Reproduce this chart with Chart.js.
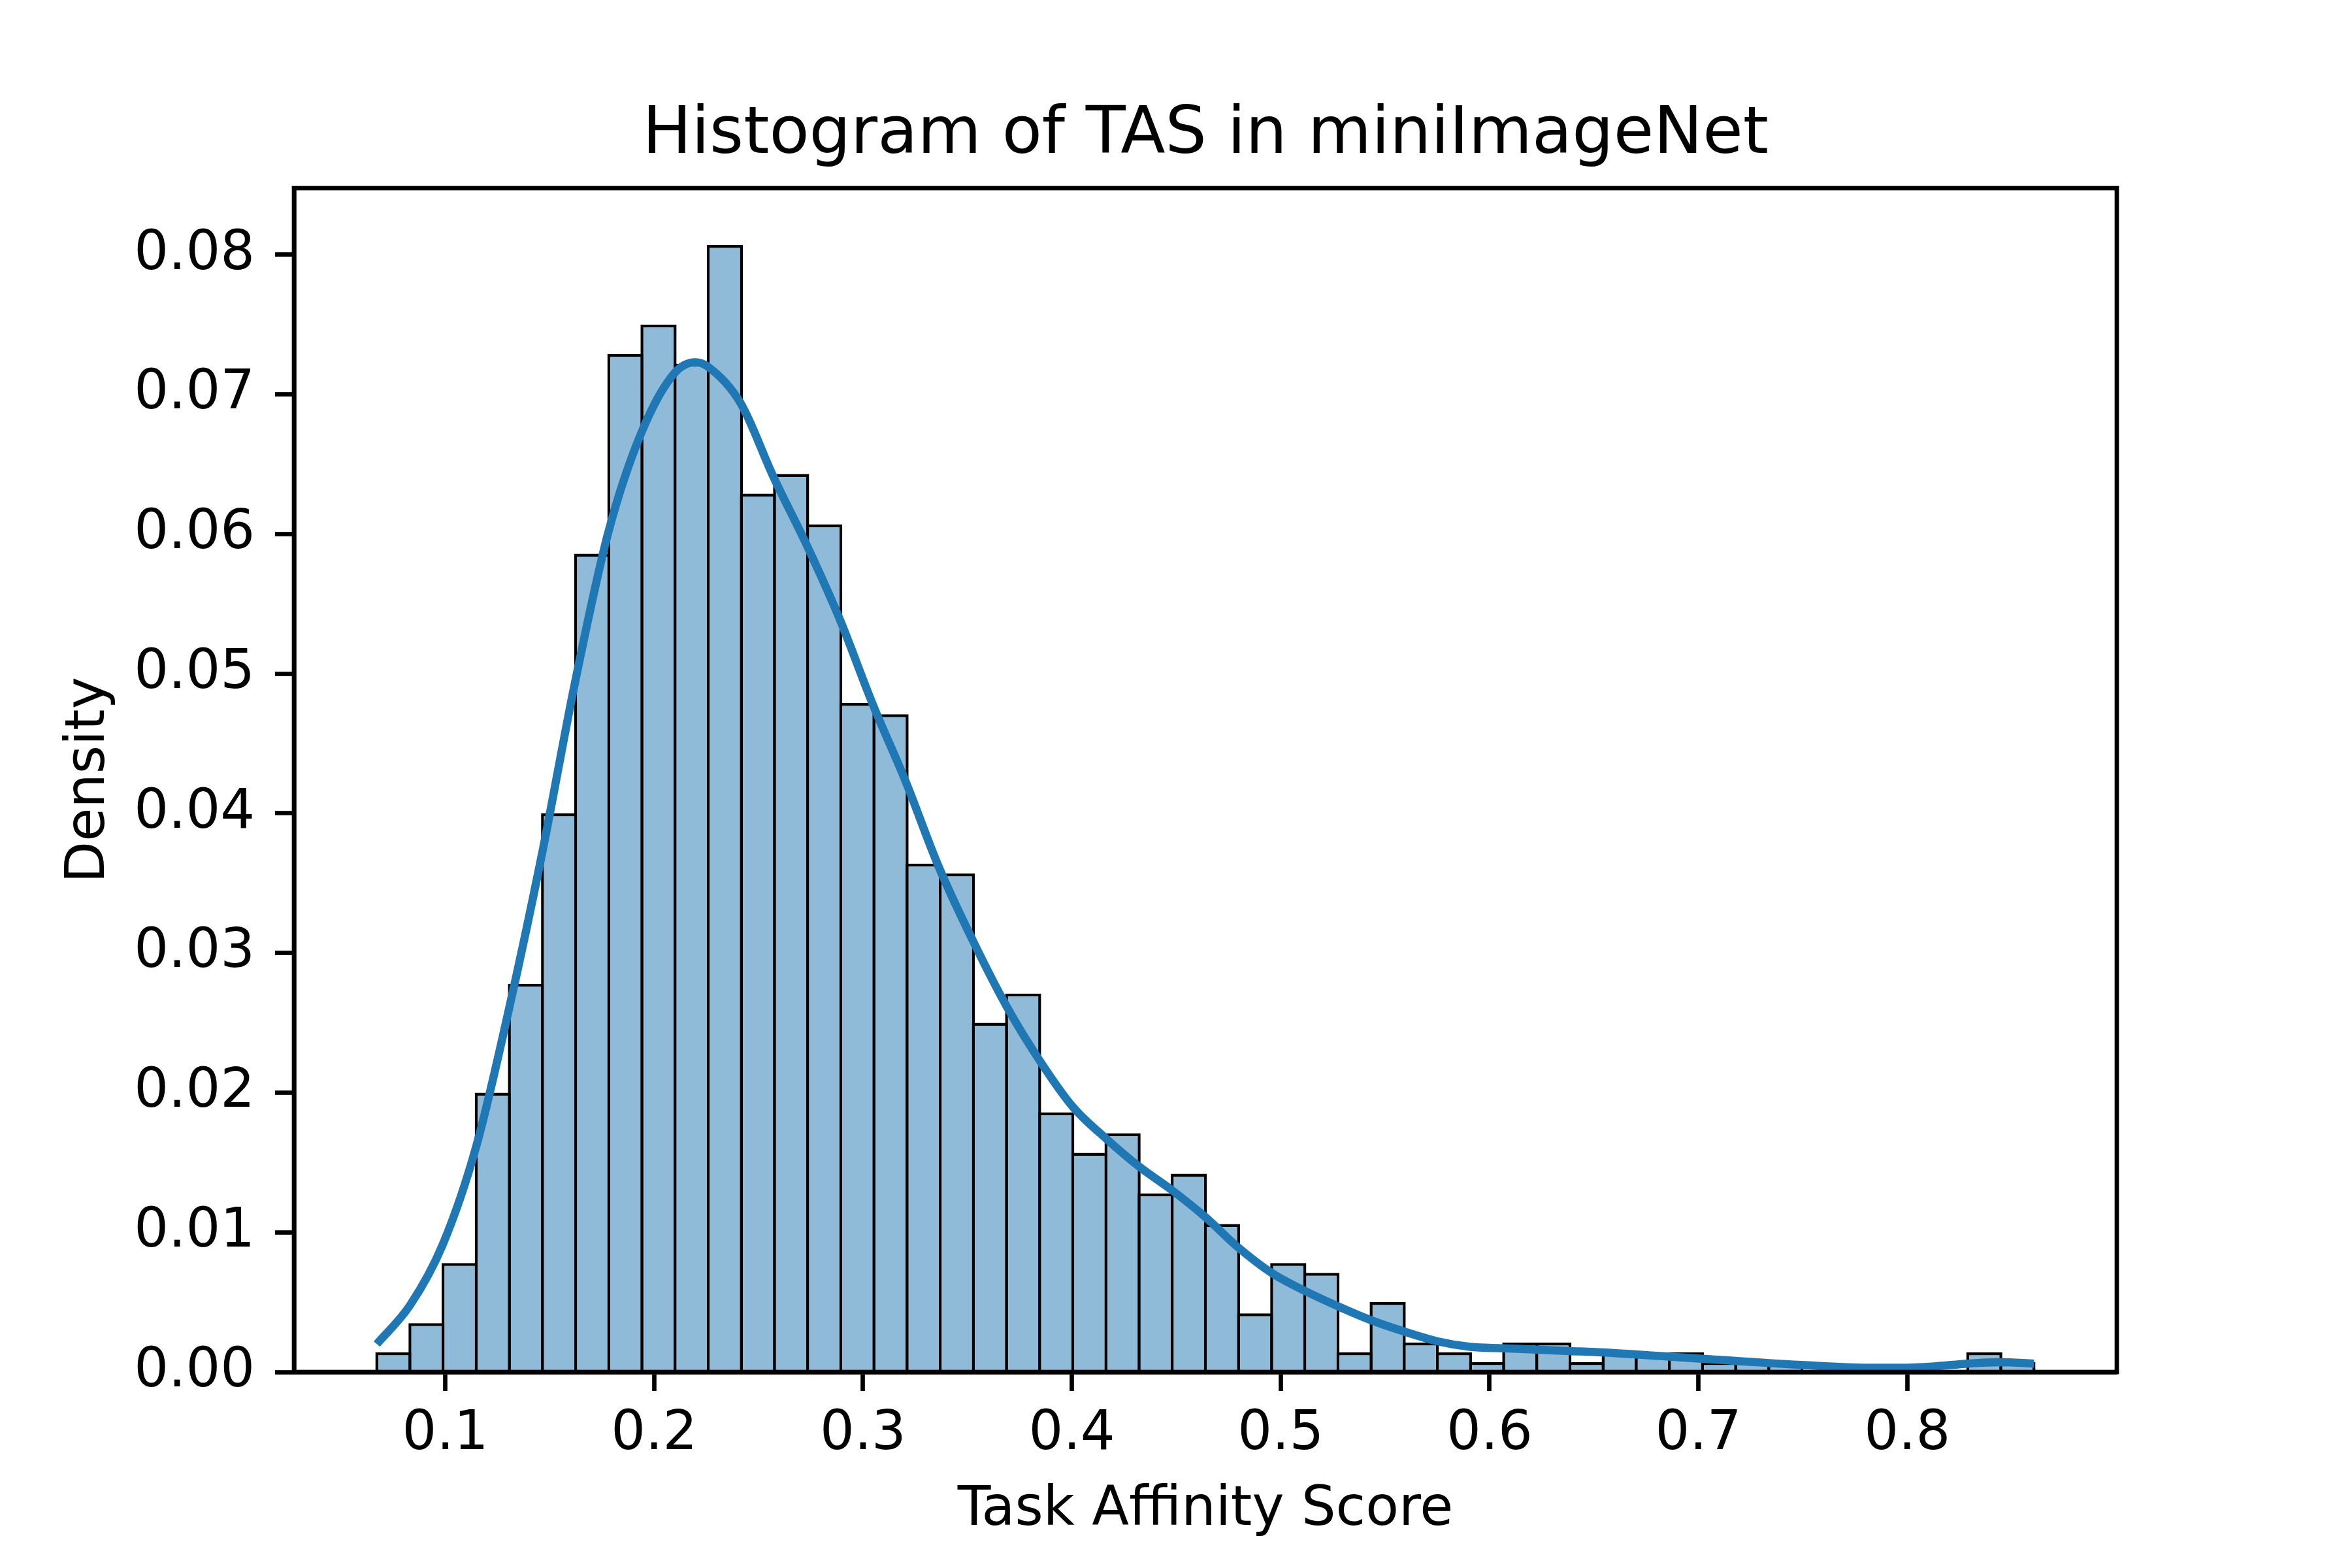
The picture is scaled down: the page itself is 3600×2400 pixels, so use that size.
<!DOCTYPE html>
<html>
<head>
<meta charset="utf-8">
<script src="https://cdn.jsdelivr.net/npm/chart.js@4.4.1/dist/chart.umd.min.js"></script>
<style>
html, body { margin: 0; padding: 0; background: #ffffff; }
#wrap { width: 3600px; height: 2400px; }
</style>
</head>
<body>
<div id="wrap"><canvas id="c" width="3600" height="2400"></canvas></div>
<script>
// ---- data ----
const chartTitle = 'Histogram of TAS in miniImageNet';
const xLabel = 'Task Affinity Score';
const yLabel = 'Density';

// histogram bin centres (50 equal bins from 0.0672 to 0.8607)
const binCenters = [
  0.075135, 0.091005, 0.106875, 0.122745, 0.138615, 0.154485, 0.170355, 0.186225, 0.202095, 0.217965,
  0.233835, 0.249705, 0.265575, 0.281445, 0.297315, 0.313185, 0.329055, 0.344925, 0.360795, 0.376665,
  0.392535, 0.408405, 0.424275, 0.440145, 0.456015, 0.471885, 0.487755, 0.503625, 0.519495, 0.535365,
  0.551235, 0.567105, 0.582975, 0.598845, 0.614715, 0.630585, 0.646455, 0.662325, 0.678195, 0.694065,
  0.709935, 0.725805, 0.741675, 0.757545, 0.773415, 0.789285, 0.805155, 0.821025, 0.836895, 0.852765
];
// bar heights (Density)
const binValues = [
  0.0014, 0.0035, 0.0078, 0.0200, 0.0278, 0.0400, 0.0586, 0.0729, 0.0750, 0.0722,
  0.0807, 0.0629, 0.0643, 0.0607, 0.0479, 0.0471, 0.0364, 0.0357, 0.0250, 0.0271,
  0.0186, 0.0157, 0.0171, 0.0128, 0.0142, 0.0106, 0.0042, 0.0078, 0.0071, 0.0014,
  0.0050, 0.0021, 0.0014, 0.0007, 0.0021, 0.0021, 0.0007, 0.0014, 0.0014, 0.0014,
  0.0007, 0.0007, 0.0007, 0, 0, 0, 0, 0, 0.0014, 0.0007
];
// KDE curve
const kdeX = [
  0.0672, 0.0832, 0.0987, 0.1147, 0.1305, 0.1463, 0.1620, 0.1780, 0.1940, 0.2096,
  0.2197, 0.2256, 0.2413, 0.2571, 0.2731, 0.2886, 0.3047, 0.3204, 0.3362, 0.3529,
  0.3687, 0.3846, 0.4004, 0.4165, 0.4323, 0.4481, 0.4639, 0.4798, 0.4956, 0.5117,
  0.5275, 0.5434, 0.5591, 0.5750, 0.5908, 0.6066, 0.6227, 0.6385, 0.6543, 0.6860,
  0.7178, 0.7496, 0.7812, 0.7972, 0.8130, 0.8289, 0.8447, 0.8607
];
const kdeY = [
  0.0020, 0.0048, 0.0091, 0.0161, 0.0260, 0.0371, 0.0493, 0.0601, 0.0673, 0.0715,
  0.0723, 0.0720, 0.0694, 0.0641, 0.0592, 0.0540, 0.0478, 0.0423, 0.0362, 0.0308,
  0.0262, 0.0223, 0.0190, 0.0167, 0.0147, 0.0130, 0.0111, 0.0089, 0.0071, 0.0058,
  0.0047, 0.0037, 0.0029, 0.0022, 0.0018, 0.0017, 0.0016, 0.0015, 0.0014, 0.0011,
  0.0008, 0.0005, 0.0003, 0.0003, 0.0004, 0.0006, 0.0007, 0.0006
];
const xTicks = [0.1, 0.2, 0.3, 0.4, 0.5, 0.6, 0.7, 0.8];
const yTicks = [0.00, 0.01, 0.02, 0.03, 0.04, 0.05, 0.06, 0.07, 0.08];

// ---- styling ----
const FONT = 'DejaVu Sans';
const SPINE = 6.67;

const framePlugin = {
  id: 'frame',
  afterDatasetsDraw(chart) {
    const { ctx, chartArea: a } = chart;
    ctx.save();
    ctx.strokeStyle = '#000000';
    ctx.lineWidth = SPINE;
    ctx.lineJoin = 'miter';
    ctx.strokeRect(a.left, a.top, a.right - a.left, a.bottom - a.top);
    ctx.restore();
  }
};

const ctx = document.getElementById('c').getContext('2d');
new Chart(ctx, {
  type: 'bar',
  data: {
    datasets: [
      {
        type: 'line',
        label: 'KDE',
        data: kdeX.map((x, i) => ({ x: x, y: kdeY[i] })),
        borderColor: '#1f77b4',
        borderWidth: 12.5,
        pointRadius: 0,
        fill: false,
        cubicInterpolationMode: 'monotone',
        borderJoinStyle: 'round',
        borderCapStyle: 'butt',
        order: 0
      },
      {
        type: 'bar',
        label: 'Histogram',
        data: binCenters.map((x, i) => ({ x: x, y: binValues[i] })),
        backgroundColor: '#8fbbd9',
        borderColor: '#000000',
        borderWidth: 4.5,
        borderSkipped: 'start',
        barPercentage: 1.089,
        categoryPercentage: 1.0,
        order: 1
      }
    ]
  },
  options: {
    responsive: false,
    maintainAspectRatio: false,
    animation: false,
    devicePixelRatio: 1,
    events: [],
    layout: { padding: { left: 0, right: 360, top: 0, bottom: 0 } },
    plugins: {
      legend: { display: false },
      tooltip: { enabled: false },
      title: {
        display: true,
        text: chartTitle,
        fullSize: false,
        color: '#000000',
        font: { family: FONT, size: 100, weight: 'normal', lineHeight: 1.2 },
        padding: { top: 148, bottom: 20 }
      }
    },
    scales: {
      x: {
        type: 'linear',
        position: 'bottom',
        min: 0.02755,
        max: 0.90035,
        offset: false,
        afterBuildTicks: (s) => { s.ticks = xTicks.map(v => ({ value: v })); },
        afterFit: (s) => { s.height = 300; },
        ticks: {
          color: '#000000',
          font: { family: FONT, size: 83, lineHeight: 1.2 },
          padding: 18,
          maxRotation: 0,
          autoSkip: false,
          callback: (v) => Number(v).toFixed(1)
        },
        grid: {
          display: true,
          offset: false,
          drawOnChartArea: false,
          drawTicks: true,
          tickLength: 29,
          tickWidth: SPINE,
          tickColor: '#000000'
        },
        border: { display: true, color: '#000000', width: SPINE },
        title: {
          display: true,
          text: xLabel,
          color: '#000000',
          font: { family: FONT, size: 83, lineHeight: 1.2 },
          padding: { top: 0, bottom: 38 }
        }
      },
      y: {
        type: 'linear',
        position: 'left',
        min: 0,
        max: 0.08477,
        afterBuildTicks: (s) => { s.ticks = yTicks.map(v => ({ value: v })); },
        afterFit: (s) => { s.width = 450; },
        ticks: {
          color: '#000000',
          font: { family: FONT, size: 83, lineHeight: 1.2 },
          padding: 31,
          autoSkip: false,
          callback: (v) => Number(v).toFixed(2)
        },
        grid: {
          display: true,
          drawOnChartArea: false,
          drawTicks: true,
          tickLength: 29,
          tickWidth: SPINE,
          tickColor: '#000000'
        },
        border: { display: true, color: '#000000', width: SPINE },
        title: {
          display: true,
          text: yLabel,
          color: '#000000',
          font: { family: FONT, size: 83, lineHeight: 1.2 },
          padding: { top: 88, bottom: 0 }
        }
      }
    }
  },
  plugins: [framePlugin]
});
</script>
</body>
</html>
